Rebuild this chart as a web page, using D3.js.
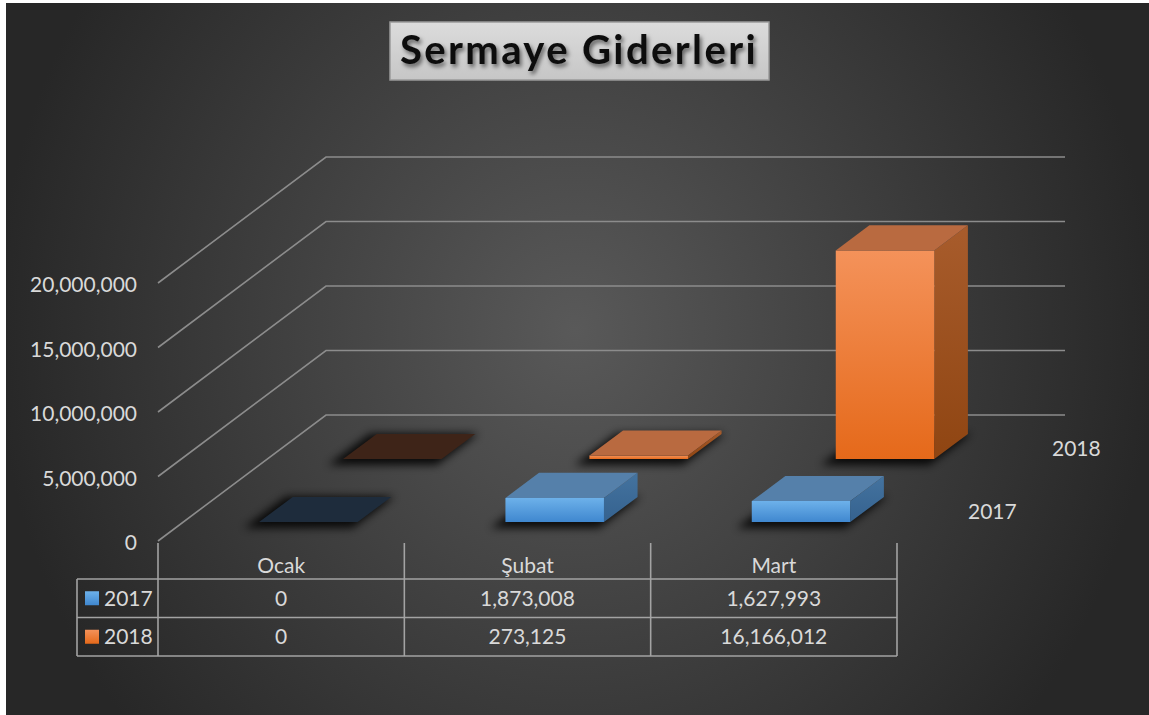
<!DOCTYPE html>
<html>
<head>
<meta charset="UTF-8">
<style>
    body { margin: 0; background: #fff; }
    svg { display: block; }
    .lbl { font-family: Lato, "Open Sans", sans-serif; font-size: 21px; fill: #d9d9d9; }
</style>
</head>
<body>
<svg width="1149" height="715"></svg>
<script src="https://d3js.org/d3.v7.min.js"></script>
<script>
var months = ["Ocak", "Şubat", "Mart"];
var series = ["2017", "2018"];
var values2017 = [0, 1873008, 1627993];
var values2018 = [0, 273125, 16166012];
var yTicks = [0, 5000000, 10000000, 15000000, 20000000];
var chartTitle = "Sermaye Giderleri";

var svg = d3.select("svg");
var defs = svg.append("defs");
var fmt = d3.format(",");

// floor geometry (oblique projection)
var Y0 = 541, DX = 168, DY = 126;

var x = d3.scaleBand().domain(months).range([160, 899]).paddingInner(0.6).paddingOuter(0.3);
var cell = d3.scaleBand().domain(months).range([158, 897]);
var depth = d3.scaleBand().domain(series).range([0, 1]).paddingInner(0.6).paddingOuter(0.3);
var y = d3.scaleLinear().domain([0, 20000000]).range([0, 258]);

function proj(px, d, v) {
    return [px + d * DX, Y0 - d * DY - y(v)];
}

// background
var bg = defs.append("radialGradient").attr("id", "bg")
    .attr("gradientUnits", "userSpaceOnUse")
    .attr("cx", 0).attr("cy", 0).attr("r", 1)
    .attr("gradientTransform", "translate(575,330) scale(580,620)");
bg.append("stop").attr("offset", 0).attr("stop-color", "#595959");
bg.append("stop").attr("offset", 1).attr("stop-color", "#272727");

svg.append("rect").attr("x", 6).attr("y", 3).attr("width", 1143).attr("height", 712)
    .attr("fill", "url(#bg)");

// gradients for faces
function vgrad(id, c0, c1) {
    var g = defs.append("linearGradient").attr("id", id)
        .attr("x1", 0).attr("y1", 0).attr("x2", 0).attr("y2", 1);
    g.append("stop").attr("offset", 0).attr("stop-color", c0);
    g.append("stop").attr("offset", 1).attr("stop-color", c1);
}
vgrad("front2017", "#6db1ea", "#3f87cf");
vgrad("front2018", "#f4925a", "#e5691a");
vgrad("side2017", "#44739f", "#35628f");
vgrad("side2018", "#a85c2c", "#8f4512");
vgrad("titleFill", "#dcdcdc", "#c6c6c6");

var colors = {
    "2017": { front: "url(#front2017)", side: "url(#side2017)", top: "#5580aa", zero: "#1e2c3c" },
    "2018": { front: "url(#front2018)", side: "url(#side2018)", top: "#b96a40", zero: "#3e2418" }
};

var blur = defs.append("filter").attr("id", "shadow")
    .attr("x", "-50%").attr("y", "-50%").attr("width", "200%").attr("height", "200%");
blur.append("feGaussianBlur").attr("stdDeviation", 4);

var tshadow = defs.append("filter").attr("id", "tshadow")
    .attr("x", "-10%").attr("y", "-30%").attr("width", "120%").attr("height", "160%");
tshadow.append("feDropShadow").attr("dx", 2).attr("dy", 3).attr("stdDeviation", 2)
    .attr("flood-color", "#000").attr("flood-opacity", 0.55);

// gridlines: left wall diagonals and back wall
var grid = svg.append("g").attr("stroke", "#8c8c8c").attr("stroke-width", 1.6).attr("fill", "none");
grid.selectAll("path").data(yTicks).enter().append("path")
    .attr("d", function(v) {
        var a = proj(158, 0, v), b = proj(158, 1, v), c = proj(897, 1, v);
        return "M" + a + "L" + b + "L" + c;
    });

// y labels
svg.append("g").selectAll("text").data(yTicks).enter().append("text")
    .attr("class", "lbl")
    .attr("text-anchor", "end")
    .attr("x", 137)
    .attr("y", function(v) { return proj(158, 0, v)[1] + 2; })
    .attr("dy", "0.35em")
    .text(fmt);

// bars, back row first
var bars = [];
[values2018, values2017].forEach(function(vals, k) {
    var s = k === 0 ? "2018" : "2017";
    months.forEach(function(m, i) {
        bars.push({ s: s, m: m, v: vals[i] });
    });
});

function poly(pts) {
    return "M" + pts.map(function(p) { return p.join(","); }).join("L") + "Z";
}

var barG = svg.append("g");
bars.forEach(function(b) {
    var x0 = x(b.m), x1 = x(b.m) + x.bandwidth();
    var d0 = depth(b.s), d1 = depth(b.s) + depth.bandwidth();
    var g = barG.append("g");
    var c = colors[b.s];
    // blurred footprint shadow
    g.append("path")
        .attr("d", poly([proj(x0 - 6, d0 - 0.03, 0), proj(x1 + 4, d0 - 0.03, 0),
                         proj(x1 + 4, d1 + 0.02, 0), proj(x0 - 6, d1 + 0.02, 0)]))
        .attr("transform", "translate(-4,2)")
        .attr("fill", "#000").attr("opacity", 0.85)
        .attr("filter", "url(#shadow)");
    if (b.v > 0) {
        g.append("path").attr("fill", c.side)
            .attr("d", poly([proj(x1, d0, 0), proj(x1, d1, 0), proj(x1, d1, b.v), proj(x1, d0, b.v)]));
        g.append("path").attr("fill", c.front)
            .attr("d", poly([proj(x0, d0, 0), proj(x1, d0, 0), proj(x1, d0, b.v), proj(x0, d0, b.v)]));
    }
    g.append("path").attr("fill", b.v > 0 ? c.top : c.zero)
        .attr("d", poly([proj(x0, d0, b.v), proj(x1, d0, b.v), proj(x1, d1, b.v), proj(x0, d1, b.v)]));
});

// series labels along depth
svg.append("g").selectAll("text").data(series).enter().append("text")
    .attr("class", "lbl")
    .attr("x", function(s) { return proj(897, depth(s) + depth.bandwidth() / 2, 0)[0] + 29; })
    .attr("y", function(s) { return proj(897, depth(s) + depth.bandwidth() / 2, 0)[1] + 2; })
    .attr("dy", "0.35em")
    .text(function(s) { return s; });

// data table
var tLeft = 77, rowTop = 579, rowH = 38.5;
var tbl = svg.append("g").attr("stroke", "#a3a3a3").attr("stroke-width", 1.6).attr("fill", "none");
var colEdges = months.map(function(m) { return cell(m); }).concat([cell.range()[1]]);
colEdges.forEach(function(cx) {
    tbl.append("line").attr("x1", cx).attr("x2", cx).attr("y1", Y0 + 2).attr("y2", rowTop + 2 * rowH);
});
tbl.append("line").attr("x1", tLeft).attr("x2", tLeft).attr("y1", rowTop).attr("y2", rowTop + 2 * rowH);
[0, 1, 2].forEach(function(r) {
    tbl.append("line").attr("x1", tLeft).attr("x2", cell.range()[1])
        .attr("y1", rowTop + r * rowH).attr("y2", rowTop + r * rowH);
});

svg.append("g").selectAll("text").data(months).enter().append("text")
    .attr("class", "lbl").attr("text-anchor", "middle")
    .attr("x", function(m) { return cell(m) + cell.bandwidth() / 2; })
    .attr("y", 566).attr("dy", "0.35em")
    .text(function(m) { return m; });

[values2017, values2018].forEach(function(vals, r) {
    var s = series[r];
    var cy = rowTop + r * rowH + rowH / 2;
    svg.append("rect").attr("x", 85).attr("y", cy - 7).attr("width", 14).attr("height", 14)
        .attr("fill", colors[s].front);
    svg.append("text").attr("class", "lbl").attr("x", 104).attr("y", cy).attr("dy", "0.35em").text(s);
    svg.append("g").selectAll("text").data(vals).enter().append("text")
        .attr("class", "lbl").attr("text-anchor", "middle")
        .attr("x", function(v, i) { return cell(months[i]) + cell.bandwidth() / 2; })
        .attr("y", cy).attr("dy", "0.35em")
        .text(fmt);
});

// title
svg.append("rect").attr("x", 390).attr("y", 22).attr("width", 379).attr("height", 58)
    .attr("fill", "url(#titleFill)").attr("stroke", "#9a9a9a").attr("stroke-width", 1.5);
svg.append("text")
    .attr("x", 579).attr("y", 64)
    .attr("text-anchor", "middle")
    .attr("font-family", "Lato, 'Open Sans', sans-serif")
    .attr("font-weight", "bold")
    .attr("font-size", 40)
    .attr("letter-spacing", 2.4)
    .attr("fill", "#111")
    .attr("filter", "url(#tshadow)")
    .text(chartTitle);
</script>
</body>
</html>
